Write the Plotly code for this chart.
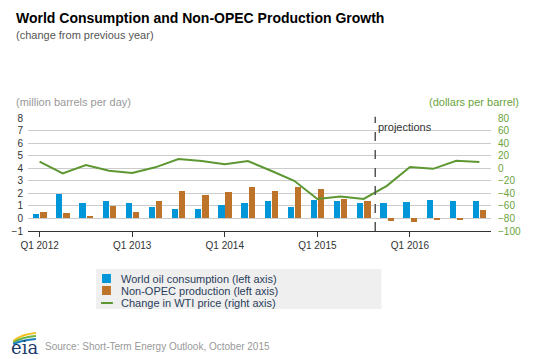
import plotly.graph_objects as go

# ---------------- data ----------------
quarters = [f"Q{q} {y}" for y in range(2012, 2017) for q in range(1, 5)]
consumption = [0.32, 1.91, 1.25, 1.38, 1.25, 0.90, 0.74, 0.74, 1.04, 1.20,
               1.38, 0.90, 1.46, 1.38, 1.20, 1.20, 1.33, 1.46, 1.38, 1.38]
non_opec = [0.53, 0.40, 0.19, 0.98, 0.48, 1.41, 2.18, 1.84, 2.10, 2.47,
            2.18, 2.47, 2.34, 1.54, 1.38, -0.18, -0.32, -0.05, -0.05, 0.69]
wti_change = [10.4, -8.2, 5.1, -3.9, -7.6, 1.4, 14.7, 11.5, 6.2, 11.5,
              -4.0, -20.0, -49.0, -45.0, -49.0, -28.0, 2.0, -1.0, 12.0, 10.0]
tick_labels = ["Q1 2012", "Q1 2013", "Q1 2014", "Q1 2015", "Q1 2016"]
series_names = ["World oil consumption (left axis)",
                "Non-OPEC production (left axis)",
                "Change in WTI price (right axis)"]
projection_start = 14.5  # between Q3 2015 and Q4 2015

# ---------------- style ----------------
W, H = 538, 359
ml, mr, mt, mb = 22, 47, 118, 128
pw, ph = W - ml - mr, H - mt - mb
FONT = "Liberation Sans, Arial, Helvetica, sans-serif"
BLUE, ORANGE, GREEN = "#0096d7", "#bd732a", "#5d9732"
GREEN_TXT = "#6aa33c"


def px(x):
    return (x - ml) / pw


def py(y):
    return (H - mb - y) / ph


fig = go.Figure()
fig.add_trace(go.Bar(x=quarters, y=consumption, name=series_names[0],
                     marker=dict(color=BLUE, line=dict(width=0)),
                     offset=-0.28, width=0.27, yaxis="y"))
fig.add_trace(go.Bar(x=quarters, y=non_opec, name=series_names[1],
                     marker=dict(color=ORANGE, line=dict(width=0)),
                     offset=0.03, width=0.27, yaxis="y"))
fig.add_trace(go.Scatter(x=quarters, y=wti_change, name=series_names[2],
                         mode="lines", line=dict(color=GREEN, width=2),
                         yaxis="y2"))

shapes = []
# projections dashed line
shapes.append(dict(type="line", xref="x", yref="paper",
                   x0=projection_start, x1=projection_start, y0=0, y1=1.01,
                   line=dict(color="#555555", width=1.5, dash="dash")))
# legend box
shapes.append(dict(type="rect", xref="paper", yref="paper",
                   x0=px(91), x1=px(380), y0=py(309), y1=py(269),
                   fillcolor="#efefef", line=dict(width=0), layer="below"))
shapes.append(dict(type="rect", xref="paper", yref="paper",
                   x0=px(97), x1=px(106), y0=py(283), y1=py(274),
                   fillcolor=BLUE, line=dict(width=0)))
shapes.append(dict(type="rect", xref="paper", yref="paper",
                   x0=px(97), x1=px(106), y0=py(295), y1=py(286),
                   fillcolor=ORANGE, line=dict(width=0)))
shapes.append(dict(type="line", xref="paper", yref="paper",
                   x0=px(96), x1=px(108), y0=py(303), y1=py(303),
                   line=dict(color=GREEN, width=2)))
# eia logo swooshes
for (c, y0, y1, ctrl) in [("#f2c01e", 341, 333, 334), ("#6db33f", 342.5, 336, 337),
                          ("#1a7fc1", 344, 339, 340)]:
    path = (f"M {px(7)},{py(y0)} Q {px(16)},{py(ctrl)} {px(30)},{py(y1)}")
    shapes.append(dict(type="path", xref="paper", yref="paper", path=path,
                       line=dict(color=c, width=2)))

annotations = []


def ann(text, x, y, size, color, xanchor="left", bold=False, family=FONT):
    annotations.append(dict(text=f"<b>{text}</b>" if bold else text,
                            xref="paper", yref="paper", x=px(x), y=py(y),
                            xanchor=xanchor, yanchor="middle", showarrow=False,
                            font=dict(size=size, color=color, family=family)))


ann("World Consumption and Non-OPEC Production Growth", 8, 17.5, 14, "#000000", bold=True)
ann("(change from previous year)", 8, 35, 11, "#555555")
ann("(million barrels per day)", 8, 102, 11, "#999999")
ann("(dollars per barrel)", 521, 102, 11, GREEN_TXT, xanchor="right")
for i, name in enumerate(series_names):
    ann(name, 114, 279 + 12 * i, 11, "#2b3e5c")
ann("Source: Short-Term Energy Outlook, October 2015", 37, 346, 10, "#999999")
ann("eia", 3, 347, 18, "#1d3c6e", family="DejaVu Serif, serif")
annotations.append(dict(text="projections", xref="x", yref="y",
                        x=projection_start, y=7.3, xanchor="left", yanchor="middle",
                        xshift=1, showarrow=False,
                        font=dict(size=11, color="#333333", family=FONT)))

fig.update_layout(
    width=W, height=H,
    margin=dict(l=ml, r=mr, t=mt, b=mb, pad=0),
    paper_bgcolor="white", plot_bgcolor="white",
    font=dict(family=FONT, size=10, color="#333333"),
    showlegend=False,
    barmode="overlay",
    bargap=0,
    xaxis=dict(type="category", range=[-0.5, 19.5], tickmode="array",
               tickvals=tick_labels, ticktext=tick_labels,
               showgrid=False, showline=True, linecolor="#333333", linewidth=1,
               ticks="outside", ticklen=5, tickcolor="#333333", tickwidth=1,
               tickfont=dict(size=10, color="#333333"), fixedrange=True),
    yaxis=dict(range=[-1, 8], dtick=1, tick0=0, showgrid=True,
               gridcolor="#cccccc", gridwidth=1, zeroline=False, showline=False,
               tickfont=dict(size=10, color="#333333"), ticklabelstandoff=4,
               fixedrange=True),
    yaxis2=dict(range=[-100, 80], dtick=20, tick0=0, overlaying="y", side="right",
                showgrid=False, zeroline=False, showline=False,
                tickfont=dict(size=10, color=GREEN_TXT), ticklabelstandoff=6,
                fixedrange=True),
    shapes=shapes,
    annotations=annotations,
)

fig.write_html("out.html", config={"displayModeBar": False},
               post_script="document.body.style.margin='0';"
                           "document.body.style.overflow='hidden';")
